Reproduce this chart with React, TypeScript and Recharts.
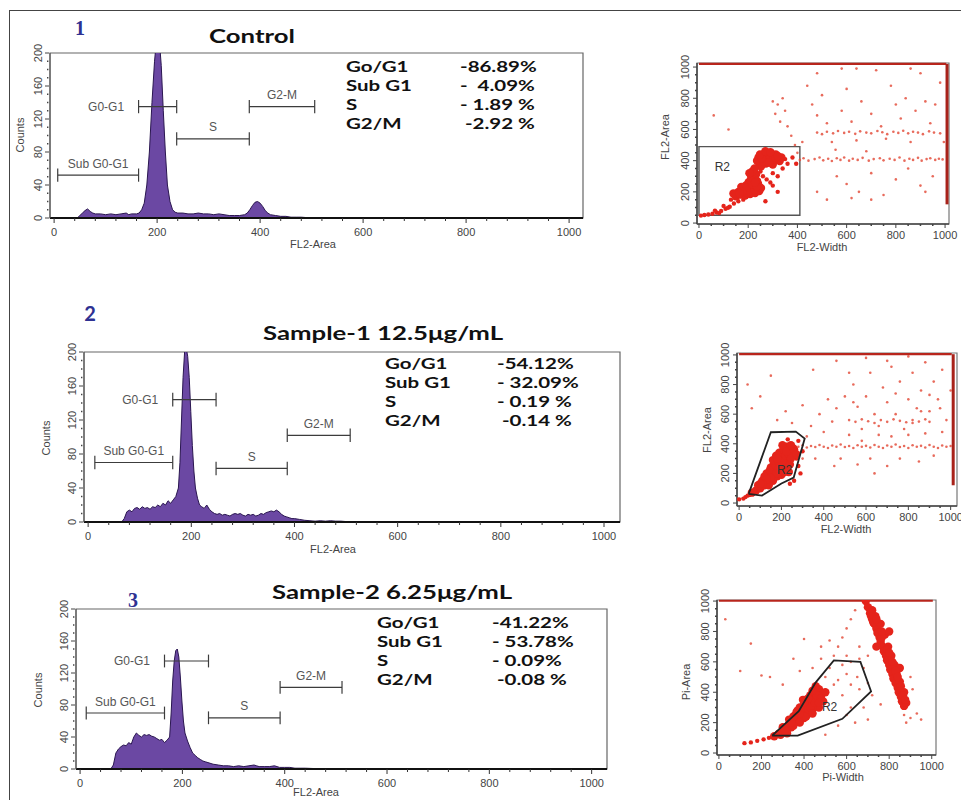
import React from "react";
import {
  AreaChart,
  Area,
  ScatterChart,
  Scatter,
  XAxis,
  YAxis,
  ReferenceLine,
  ReferenceDot,
  ReferenceArea,
} from "recharts";

// ---- histogram data: [FL2-Area, counts] ----
const controlHist: [number, number][] = [
  [-8, 0], [45, 0], [50, 3], [55, 6], [60, 9], [65, 11], [70, 8], [75, 6], [80, 5], [90, 5],
  [100, 4], [110, 5], [120, 4], [130, 5], [140, 6], [145, 4], [150, 5], [160, 5], [165, 6],
  [170, 10], [175, 18], [180, 40], [185, 80], [190, 140], [195, 190], [198, 210], [205, 210],
  [208, 185], [212, 130], [216, 80], [220, 40], [225, 20], [230, 10], [235, 7], [240, 6],
  [250, 6], [260, 5], [270, 5], [280, 6], [290, 5], [300, 5], [310, 4], [320, 5], [330, 4],
  [340, 3], [350, 3], [360, 3], [370, 4], [375, 6], [380, 10], [385, 15], [390, 19], [395, 20],
  [400, 18], [405, 14], [410, 9], [415, 6], [420, 4], [430, 3], [440, 2], [450, 2], [460, 1],
  [470, 1], [480, 1], [490, 0.5], [500, 0], [1030, 0],
];
const sample1Hist: [number, number][] = [
  [-8, 0], [65, 0], [70, 4], [75, 12], [80, 14], [85, 12], [90, 16], [95, 17], [100, 15],
  [105, 18], [110, 16], [115, 17], [120, 15], [125, 18], [130, 17], [135, 20], [140, 18],
  [145, 22], [150, 20], [155, 25], [160, 22], [165, 26], [170, 30], [175, 40], [178, 70],
  [181, 120], [184, 170], [187, 200], [190, 205], [193, 195], [196, 170], [199, 130], [202, 90],
  [205, 60], [208, 40], [212, 28], [216, 20], [220, 18], [225, 16], [230, 20], [235, 15],
  [240, 12], [245, 10], [250, 9], [255, 10], [260, 8], [265, 9], [270, 8], [275, 7], [280, 9],
  [285, 10], [290, 9], [295, 10], [300, 8], [305, 7], [310, 9], [315, 8], [320, 9], [325, 7],
  [330, 8], [335, 10], [340, 9], [345, 11], [350, 12], [355, 13], [360, 12], [365, 14],
  [370, 12], [375, 9], [380, 7], [385, 6], [390, 5], [395, 4], [400, 4], [410, 3], [420, 2],
  [430, 1.5], [440, 1], [450, 1.5], [460, 1], [470, 1.5], [480, 1], [490, 1], [500, 0.5],
  [505, 0], [1031, 0],
];
const sample2Hist: [number, number][] = [
  [-8, 0], [60, 0], [65, 5], [70, 20], [75, 25], [80, 28], [85, 30], [90, 29], [95, 33],
  [100, 31], [105, 40], [110, 45], [115, 42], [120, 40], [125, 43], [130, 42], [135, 43],
  [140, 41], [145, 40], [150, 38], [155, 36], [160, 37], [165, 33], [170, 36], [175, 40],
  [178, 70], [181, 110], [184, 135], [187, 148], [190, 150], [193, 140], [196, 115], [199, 85],
  [202, 60], [205, 45], [210, 35], [215, 27], [220, 20], [225, 17], [230, 14], [235, 12],
  [240, 10], [245, 9], [250, 8], [260, 6], [270, 5], [280, 4], [290, 4], [300, 3], [310, 4],
  [320, 3], [330, 4], [340, 5], [345, 4], [350, 3], [360, 3], [370, 3], [380, 4], [385, 3],
  [390, 2], [400, 2], [410, 2], [420, 1], [430, 1], [440, 1], [460, 0.5], [480, 0.5], [490, 0],
  [1030, 0],
];

const histXTicks = [
  0, 40, 80, 120, 160, 200, 240, 280, 320, 360, 400, 440, 480, 520, 560, 600, 640, 680, 720,
  760, 800, 840, 880, 920, 960, 1000,
];
const histYTicks = [
  0, 10, 20, 30, 40, 50, 60, 70, 80, 90, 100, 110, 120, 130, 140, 150, 160, 170, 180, 190, 200,
];
const flowTicks = [
  0, 50, 100, 150, 200, 250, 300, 350, 400, 450, 500, 550, 600, 650, 700, 750, 800, 850, 900,
  950, 1000,
];

// ---- gates: [from, to, level] for Sub G0-G1, G0-G1, S, G2-M ----
const gateNames = ["Sub G0-G1", "G0-G1", "S", "G2-M"];
const controlGates: [number, number, number][] = [[7, 164, 52], [164, 238, 135], [238, 379, 96], [379, 506, 135]];
const sample1Gates: [number, number, number][] = [[13, 164, 70], [164, 248, 144], [248, 386, 63], [386, 508, 102]];
const sample2Gates: [number, number, number][] = [[12, 165, 70], [165, 251, 135], [251, 391, 64], [391, 512, 102]];

// ---- percentages ----
const statLabels = ["Go/G1", "Sub G1", "S", "G2/M"];
const controlStats = ["-86.89%", "-  4.09%", "- 1.89 %", " -2.92 %"];
const sample1Stats = ["-54.12%", "- 32.09%", "- 0.19 %", " -0.14 %"];
const sample2Stats = ["-41.22%", "- 53.78%", "- 0.09%", " -0.08 %"];

// ---- dot plots: [width, area] ----
const ctrlCore: [number, number][] = [
  [245, 385], [258, 402], [268, 425], [282, 412], [295, 398], [305, 425], [318, 405], [272, 382],
  [288, 435], [252, 362], [328, 398], [300, 375], [262, 442], [242, 420], [278, 448], [312, 440],
  [236, 400], [335, 420], [150, 172], [168, 182], [188, 176], [208, 186], [228, 192], [160, 200],
  [180, 212], [200, 222], [220, 232], [240, 252], [202, 262], [222, 282], [212, 302], [192, 242],
  [172, 232], [245, 205], [252, 225], [232, 312], [218, 332], [140, 190], [196, 196], [236, 270],
  [226, 350], [262, 395], [275, 400], [290, 415], [300, 405], [285, 388], [255, 415], [310, 418],
  [320, 430], [248, 440], [270, 460], [290, 455], [185, 195], [205, 205], [225, 215], [195, 230],
  [215, 250], [235, 235], [175, 200], [165, 190], [210, 275], [205, 320], [228, 260],
];
const ctrlTail: [number, number][] = [
  [8, 48], [22, 52], [38, 55], [55, 60], [72, 68], [90, 78], [108, 92], [125, 105], [142, 125],
  [118, 98], [82, 64], [100, 110], [65, 80], [130, 150], [160, 140], [180, 150], [260, 300],
  [250, 330], [275, 280], [290, 260], [300, 240], [320, 300], [340, 350], [360, 380], [380, 420],
  [395, 380], [350, 410], [300, 320], [270, 140], [320, 200],
];
const ctrlSparse: [number, number][] = [
  [410, 405], [425, 415], [445, 400], [470, 410], [490, 420], [505, 402], [525, 412], [540, 398],
  [560, 415], [575, 405], [590, 420], [610, 400], [625, 412], [645, 405], [665, 418], [690, 400],
  [710, 410], [735, 415], [750, 402], [775, 412], [795, 405], [815, 420], [835, 400], [855, 412],
  [870, 405], [890, 418], [905, 400], [925, 410], [940, 415], [960, 405], [975, 412], [990, 408],
  [480, 580], [500, 570], [520, 585], [545, 575], [565, 590], [590, 578], [610, 585], [635, 572],
  [655, 588], [680, 580], [700, 575], [725, 590], [745, 582], [765, 570], [790, 585], [810, 578],
  [830, 592], [850, 575], [870, 585], [890, 580], [910, 570], [935, 588], [955, 580], [980, 575],
  [300, 780], [320, 760], [340, 800], [350, 720], [310, 700], [330, 650], [360, 620], [375, 560],
  [390, 500], [400, 450], [420, 520], [440, 880], [460, 760], [480, 690], [500, 820], [520, 640],
  [540, 520], [555, 470], [580, 720], [600, 860], [620, 650], [640, 530], [660, 780], [680, 460],
  [700, 700], [720, 980], [740, 620], [760, 540], [780, 880], [800, 760], [820, 670], [840, 800],
  [860, 520], [880, 720], [900, 960], [920, 780], [940, 640], [960, 760], [980, 900], [995, 520],
  [560, 300], [600, 250], [650, 200], [700, 320], [750, 180], [800, 280], [850, 350], [900, 240],
  [950, 300], [620, 160], [480, 200], [520, 150], [700, 150], [920, 200], [60, 690], [120, 600],
  [480, 960], [640, 990], [860, 990], [580, 990],
];

const s1Core: [number, number][] = [
  [60, 70], [80, 85], [100, 100], [120, 120], [110, 150], [130, 140], [140, 170], [150, 190],
  [160, 210], [170, 230], [180, 250], [150, 240], [165, 270], [185, 290], [200, 310], [175, 320],
  [190, 340], [210, 360], [225, 380], [240, 350], [250, 320], [230, 300], [215, 270], [200, 240],
  [220, 230], [240, 260], [195, 200], [180, 180], [160, 150], [140, 120], [205, 390], [255, 370],
  [260, 340], [130, 200], [145, 220], [120, 180], [235, 210], [90, 120], [170, 260], [190, 270],
  [205, 280], [220, 320], [235, 330], [245, 300], [225, 350], [185, 230], [200, 190], [175, 200],
  [150, 170], [130, 160], [110, 130], [100, 130], [160, 290], [180, 300], [215, 210], [260, 360],
  [245, 390], [270, 330],
];
const s1Tail: [number, number][] = [
  [0, 25], [20, 30], [30, 40], [40, 50], [50, 55], [270, 300], [280, 250], [290, 200], [300, 350],
  [260, 150], [240, 130], [280, 420], [230, 430],
];
const s1Sparse: [number, number][] = [
  [280, 380], [300, 390], [320, 375], [340, 385], [360, 378], [380, 392], [400, 380], [420, 372],
  [440, 388], [460, 380], [480, 395], [500, 378], [520, 385], [540, 372], [560, 390], [580, 380],
  [600, 386], [620, 375], [640, 392], [660, 380], [680, 372], [700, 388], [720, 380], [740, 395],
  [760, 378], [780, 385], [800, 372], [820, 390], [840, 380], [860, 386], [880, 375], [900, 392],
  [920, 380], [940, 372], [960, 388], [980, 380], [1000, 385], [520, 560], [550, 548], [580, 565],
  [610, 552], [640, 540], [670, 560], [700, 548], [730, 565], [760, 555], [790, 545], [820, 560],
  [850, 550], [880, 565], [900, 548], [300, 300], [320, 450], [340, 520], [360, 300], [380, 600],
  [400, 480], [420, 700], [440, 550], [460, 640], [480, 300], [500, 720], [520, 460], [540, 800],
  [560, 650], [580, 500], [600, 720], [620, 880], [640, 600], [660, 460], [680, 780], [700, 680],
  [720, 920], [740, 600], [760, 820], [780, 500], [800, 700], [820, 880], [840, 640], [860, 760],
  [880, 950], [900, 620], [920, 820], [940, 700], [960, 900], [980, 560], [1000, 760], [620, 300],
  [700, 250], [760, 300], [850, 280], [920, 320], [560, 260], [450, 250], [640, 200], [580, 420],
  [660, 520], [720, 450], [800, 460], [880, 470], [960, 480], [300, 660], [250, 540], [220, 620],
  [180, 560], [100, 720], [60, 640], [40, 800], [150, 860], [350, 900], [460, 960], [520, 880],
  [600, 980], [700, 960], [800, 990], [860, 620], [900, 730], [950, 640], [540, 680], [740, 740],
  [820, 540],
];

const s2Core: [number, number][] = [
  [260, 110], [280, 125], [300, 140], [320, 155], [340, 170], [300, 170], [330, 190], [350, 210],
  [370, 230], [360, 250], [390, 260], [400, 280], [380, 300], [410, 310], [420, 330], [440, 350],
  [430, 380], [450, 400], [470, 420], [460, 360], [480, 380], [490, 340], [470, 300], [440, 290],
  [420, 260], [400, 230], [380, 200], [350, 180], [320, 130], [290, 120], [500, 400], [455, 440],
  [435, 320], [395, 350], [410, 240], [330, 220], [350, 240], [365, 270], [380, 260], [400, 300],
  [420, 290], [430, 300], [450, 330], [460, 380], [440, 410], [420, 360], [400, 330], [370, 280],
  [340, 200], [310, 150], [480, 360], [470, 330], [440, 260],
  [690, 1000], [700, 960], [710, 920], [720, 880], [730, 850], [740, 820], [745, 790], [755, 760],
  [760, 730], [770, 700], [775, 670], [785, 640], [790, 610], [800, 580], [805, 550], [815, 520],
  [820, 490], [830, 460], [840, 430], [845, 400], [855, 370], [860, 340], [870, 310], [760, 850],
  [780, 780], [795, 700], [810, 640], [825, 580], [835, 520], [850, 470], [735, 900], [720, 940],
  [800, 800], [740, 700], [850, 560], [870, 400], [880, 330], [715, 900], [725, 860], [750, 790],
  [765, 760], [790, 680], [800, 660], [815, 600], [830, 540], [840, 500], [855, 440], [865, 380],
  [875, 350], [740, 880], [765, 800],
];
const s2Tail: [number, number][] = [
  [120, 65], [150, 70], [180, 80], [210, 90], [235, 100], [250, 105],
];
const s2Sparse: [number, number][] = [
  [500, 500], [520, 560], [540, 640], [560, 700], [580, 760], [600, 820], [620, 880], [640, 940],
  [560, 480], [600, 520], [620, 450], [650, 500], [680, 560], [540, 450], [580, 380], [620, 300],
  [660, 420], [700, 460], [600, 250], [640, 200], [560, 180], [500, 120], [680, 300], [700, 220],
  [880, 200], [900, 230], [950, 220], [930, 260], [400, 750], [380, 540], [300, 450], [200, 510],
  [100, 540], [30, 880], [150, 720], [240, 500], [350, 620], [440, 560], [480, 620], [520, 740],
  [480, 700], [600, 640], [660, 700], [620, 600], [580, 580], [660, 620], [700, 640], [900, 500],
  [910, 420], [870, 250], [720, 380], [760, 320],
];

// R2 gates
const ctrlGateRect = { x1: 0, x2: 410, y1: 50, y2: 490 };
const s1GatePoly: [number, number][] = [
  [45, 62], [150, 478], [268, 482], [310, 435], [258, 172], [200, 132], [108, 50], [45, 62],
];
const s2GatePoly: [number, number][] = [
  [250, 115], [375, 275], [455, 465], [540, 610], [665, 600], [715, 405], [580, 225], [370, 115],
  [250, 115],
];

const CAL = "Lato, 'Open Sans', sans-serif";
const ARIAL = "'Liberation Sans', Arial, sans-serif";
const PURPLE = "#6b48a3";
const RED = "#e5241b";

const toXY = (arr: [number, number][]) => arr.map(([x, y]) => ({ x, y }));

// ---------- ticks ----------
const HistXTick = (props: any) => {
  const { x, y, payload } = props;
  const major = payload.value % 200 === 0;
  return (
    <g>
      <line x1={x} x2={x} y1={y} y2={y + (major ? 5 : 3)} stroke="#333" strokeWidth={1} />
      {major && (
        <text x={x} y={y + 18} textAnchor="middle" fontSize={11} fill="#444" fontFamily={ARIAL}>
          {payload.value}
        </text>
      )}
    </g>
  );
};

const HistYTick = (props: any) => {
  const { x, y, payload } = props;
  const major = payload.value % 40 === 0;
  return (
    <g>
      <line x1={x - (major ? 5 : 3)} x2={x - 1} y1={y} y2={y} stroke="#444" strokeWidth={major ? 1 : 1.4} strokeDasharray={major ? undefined : "1.4 1"} />
      {major && (
        <text x={x - 8} y={y} transform={`rotate(-90, ${x - 8}, ${y})`} textAnchor="middle" fontSize={11} fill="#444" fontFamily={ARIAL}>
          {payload.value}
        </text>
      )}
    </g>
  );
};

const FlowXTick = (props: any) => {
  const { x, y, payload } = props;
  const major = payload.value % 200 === 0;
  return (
    <g>
      <line x1={x} x2={x} y1={y} y2={y + (major ? 4 : 2)} stroke="#444" strokeWidth={major ? 1 : 1.5} />
      {major && (
        <text x={x} y={y + 15} textAnchor="middle" fontSize={11} fill="#444" fontFamily={ARIAL}>
          {payload.value}
        </text>
      )}
    </g>
  );
};

const FlowYTick = (props: any) => {
  const { x, y, payload } = props;
  const major = payload.value % 200 === 0;
  return (
    <g>
      <line x1={x - (major ? 4 : 2)} x2={x} y1={y} y2={y} stroke="#444" strokeWidth={major ? 1 : 1.5} />
      {major && (
        <text x={x - 8} y={y} transform={`rotate(-90, ${x - 8}, ${y})`} textAnchor="middle" fontSize={11} fill="#444" fontFamily={ARIAL}>
          {payload.value}
        </text>
      )}
    </g>
  );
};

// ---------- histogram panel ----------
interface HistProps {
  data: [number, number][];
  gates: [number, number, number][];
  left: number;
  top: number;
  plotW: number;
  plotH: number;
  xMax: number;
}

const ML = 45;
const MT = 16;
const MR = 16;
const XH = 40;

const Histogram: React.FC<HistProps> = ({ data, gates, left, top, plotW, plotH, xMax }) => {
  const rows = toXY(data);
  return (
    <div style={{ position: "absolute", left: left - ML, top: top - MT }}>
      <AreaChart
        width={plotW + ML + MR}
        height={plotH + MT + XH}
        data={rows}
        margin={{ top: MT, right: MR, bottom: 0, left: 0 }}
      >
        <XAxis
          type="number"
          dataKey="x"
          domain={[-8, xMax]}
          ticks={histXTicks}
          interval={0}
          allowDataOverflow
          tickLine={false}
          tickSize={0}
          tickMargin={0}
          height={XH}
          axisLine={{ stroke: "#111", strokeWidth: 2 }}
          tick={(p: any) => <HistXTick {...p} />}
        />
        <YAxis
          type="number"
          domain={[0, 200]}
          ticks={histYTicks}
          interval={0}
          allowDataOverflow
          tickLine={false}
          tickSize={0}
          tickMargin={0}
          width={ML}
          axisLine={{ stroke: "#555", strokeWidth: 1 }}
          tick={(p: any) => <HistYTick {...p} />}
        />
        <ReferenceArea x1={-8} x2={xMax} y1={0} y2={200} fill="none" stroke="#666" strokeWidth={1.2} />
        <Area
          type="linear"
          dataKey="y"
          stroke="#2a1650"
          strokeWidth={1}
          fill={PURPLE}
          fillOpacity={1}
          dot={false}
          activeDot={false}
          isAnimationActive={false}
        />
        {gates.map(([a, b, lvl], i) => {
          const tk = 8;
          return (
            <React.Fragment key={i}>
              <ReferenceLine segment={[{ x: a, y: lvl }, { x: b, y: lvl }]} stroke="#3c3c3c" strokeWidth={1.2} />
              <ReferenceLine segment={[{ x: a, y: lvl - tk }, { x: a, y: lvl + tk }]} stroke="#3c3c3c" strokeWidth={1.2} />
              <ReferenceLine segment={[{ x: b, y: lvl - tk }, { x: b, y: lvl + tk }]} stroke="#3c3c3c" strokeWidth={1.2} />
              <ReferenceDot
                x={i === 1 ? a : (a + b) / 2}
                y={lvl}
                r={0.5}
                fill="none"
                stroke="none"
                label={{
                  value: gateNames[i],
                  position: i === 1 ? "left" : "top",
                  offset: i === 1 ? 14 : 7,
                  fill: "#555",
                  fontSize: 12,
                  fontFamily: ARIAL,
                }}
              />
            </React.Fragment>
          );
        })}
      </AreaChart>
    </div>
  );
};

// ---------- dot plot panel ----------
interface FlowProps {
  left: number;
  top: number;
  plotW: number;
  plotH: number;
  xDomain: [number, number];
  yDomain: [number, number];
  core: [number, number][];
  tail: [number, number][];
  sparse: [number, number][];
  poly?: [number, number][];
  rect?: { x1: number; x2: number; y1: number; y2: number };
  r2: [number, number];
  topLineY: number;
  rightLineX?: number;
}

const FM_L = 40;
const FM_T = 14;
const FM_R = 16;
const FXH = 30;

const FlowPlot: React.FC<FlowProps> = (p) => {
  const dot = (r: number, fill: string, op = 1) => (s: any) =>
    <circle cx={s.cx} cy={s.cy} r={r} fill={fill} fillOpacity={op} />;
  return (
    <div style={{ position: "absolute", left: p.left - FM_L, top: p.top - FM_T }}>
      <ScatterChart
        width={p.plotW + FM_L + FM_R}
        height={p.plotH + FM_T + FXH}
        margin={{ top: FM_T, right: FM_R, bottom: 0, left: 0 }}
      >
        <XAxis
          type="number"
          dataKey="x"
          domain={p.xDomain}
          ticks={flowTicks}
          interval={0}
          allowDataOverflow
          tickLine={false}
          tickSize={0}
          tickMargin={0}
          height={FXH}
          axisLine={{ stroke: "#444", strokeWidth: 1.5 }}
          tick={(t: any) => <FlowXTick {...t} />}
        />
        <YAxis
          type="number"
          dataKey="y"
          domain={p.yDomain}
          ticks={flowTicks}
          interval={0}
          allowDataOverflow
          tickLine={false}
          tickSize={0}
          tickMargin={0}
          width={FM_L}
          axisLine={{ stroke: "#444", strokeWidth: 1.5 }}
          tick={(t: any) => <FlowYTick {...t} />}
        />
        <ReferenceArea
          x1={p.xDomain[0]}
          x2={p.xDomain[1]}
          y1={p.yDomain[0]}
          y2={p.yDomain[1]}
          fill="none"
          stroke="#777"
          strokeWidth={1.2}
        />
        <Scatter data={toXY(p.sparse)} shape={dot(1.3, "#e4513f", 0.85)} isAnimationActive={false} />
        <Scatter data={toXY(p.tail)} shape={dot(2.2, RED)} isAnimationActive={false} />
        <Scatter data={toXY(p.core)} shape={dot(4.2, RED)} isAnimationActive={false} />
        <ReferenceLine
          segment={[{ x: 0, y: p.topLineY }, { x: 1005, y: p.topLineY }]}
          stroke="#b8251c"
          strokeWidth={2.2}
        />
        {p.rightLineX !== undefined && (
          <ReferenceLine
            segment={[{ x: p.rightLineX, y: 120 }, { x: p.rightLineX, y: p.topLineY }]}
            stroke="#a8221a"
            strokeWidth={3}
          />
        )}
        {p.rect && (
          <ReferenceArea
            x1={p.rect.x1}
            x2={p.rect.x2}
            y1={p.rect.y1}
            y2={p.rect.y2}
            fill="none"
            stroke="#555"
            strokeWidth={1.4}
          />
        )}
        {p.poly && (
          <Scatter
            data={toXY(p.poly)}
            line={{ stroke: "#222", strokeWidth: 1.8 }}
            lineType="joint"
            shape={() => <g />}
            isAnimationActive={false}
          />
        )}
        <ReferenceDot
          x={p.r2[0]}
          y={p.r2[1]}
          r={0.5}
          fill="none"
          stroke="none"
          label={{ value: "R2", position: "center", fill: "#333", fontSize: 12, fontFamily: ARIAL }}
        />
      </ScatterChart>
    </div>
  );
};

// ---------- text helpers ----------
const abs = (left: number, top: number, extra: React.CSSProperties = {}): React.CSSProperties => ({
  position: "absolute",
  left,
  top,
  whiteSpace: "pre",
  ...extra,
});

const CalText: React.FC<{ x: number; y: number; size: number; children: React.ReactNode; center?: boolean }> = ({
  x,
  y,
  size,
  children,
  center,
}) => (
  <div
    style={abs(x, y - size * 0.6, {
      fontFamily: CAL,
      fontWeight: 700,
      fontSize: size,
      lineHeight: `${size * 1.2}px`,
      color: "#111",
      transform: center ? "translateX(-50%) scaleX(1.32)" : "scaleX(1.32)",
      transformOrigin: center ? "50% 50%" : "0 50%",
    })}
  >
    {children}
  </div>
);

const Stats: React.FC<{ x: number; vx: number; y: number; values: string[] }> = ({ x, vx, y, values }) => (
  <>
    {statLabels.map((s, i) => (
      <React.Fragment key={s}>
        <CalText x={x} y={y + i * 19} size={15.5}>{s}</CalText>
        <CalText x={vx} y={y + i * 19} size={15.5}>{values[i]}</CalText>
      </React.Fragment>
    ))}
  </>
);

const AxisTitle: React.FC<{ x: number; y: number; text: string; rotate?: boolean }> = ({ x, y, text, rotate }) => (
  <div
    style={abs(x, y, {
      fontFamily: ARIAL,
      fontSize: 11,
      color: "#444",
      lineHeight: "12px",
      transform: `translate(-50%, -50%)${rotate ? " rotate(-90deg)" : ""}`,
    })}
  >
    {text}
  </div>
);

const PanelNo: React.FC<{ x: number; y: number; text: string; serif: boolean }> = ({ x, y, text, serif }) => (
  <div
    style={abs(x, y, {
      fontFamily: serif ? "'Liberation Serif', 'Times New Roman', serif" : CAL,
      fontWeight: 700,
      fontSize: 20,
      lineHeight: "22px",
      color: "#2e3192",
      transform: "translate(-50%, -50%)",
    })}
  >
    {text}
  </div>
);

export default function App() {
  return (
    <div
      style={{
        position: "absolute",
        left: 0,
        top: 0,
        width: 961,
        height: 800,
        background: "#fff",
        overflow: "hidden",
      }}
    >
      {/* figure border (left and top only) */}
      <div style={{ position: "absolute", left: 9, top: 10, width: 960, height: 800, borderLeft: "1.5px solid #444", borderTop: "1.5px solid #444" }} />

      {/* panel 1 */}
      <PanelNo x={80} y={28} text="1" serif />
      <CalText x={252} y={36} size={19.5} center>Control</CalText>
      <Histogram data={controlHist} gates={controlGates} left={50} top={53} plotW={533} plotH={165} xMax={1027} />
      <Stats x={346} vx={460} y={66} values={controlStats} />
      <AxisTitle x={20} y={135} text="Counts" rotate />
      <AxisTitle x={313} y={244} text="FL2-Area" />

      <FlowPlot
        left={697}
        top={63}
        plotW={252}
        plotH={161}
        xDomain={[-8, 1016]}
        yDomain={[-6, 1026]}
        core={ctrlCore}
        tail={ctrlTail}
        sparse={ctrlSparse}
        rect={ctrlGateRect}
        r2={[95, 360]}
        topLineY={1020}
        rightLineX={1008}
      />
      <AxisTitle x={665} y={137} text="FL2-Area" rotate />
      <AxisTitle x={822} y={247} text="FL2-Width" />

      {/* panel 2 */}
      <PanelNo x={90} y={313} text="2" serif={false} />
      <CalText x={383} y={333} size={19.5} center>Sample-1 12.5μg/mL</CalText>
      <Histogram data={sample1Hist} gates={sample1Gates} left={84} top={352} plotW={536} plotH={170} xMax={1031} />
      <Stats x={385} vx={497} y={363} values={sample1Stats} />
      <AxisTitle x={46} y={438} text="Counts" rotate />
      <AxisTitle x={333} y={549} text="FL2-Area" />

      <FlowPlot
        left={737}
        top={353}
        plotW={220}
        plotH={153}
        xDomain={[-10, 1030]}
        yDomain={[-20, 1013]}
        core={s1Core}
        tail={s1Tail}
        sparse={s1Sparse}
        poly={s1GatePoly}
        r2={[215, 225]}
        topLineY={1005}
        rightLineX={1012}
      />
      <AxisTitle x={707} y={430} text="FL2-Area" rotate />
      <AxisTitle x={846} y={529} text="FL2-Width" />

      {/* panel 3 */}
      <PanelNo x={133} y={600} text="3" serif />
      <CalText x={392} y={592} size={19.5} center>Sample-2 6.25μg/mL</CalText>
      <Histogram data={sample2Hist} gates={sample2Gates} left={76} top={609} plotW={531} plotH={160} xMax={1030} />
      <Stats x={377} vx={492} y={622} values={sample2Stats} />
      <AxisTitle x={38} y={690} text="Counts" rotate />
      <AxisTitle x={316} y={792} text="FL2-Area" />

      <FlowPlot
        left={717}
        top={600}
        plotW={219}
        plotH={155}
        xDomain={[-9, 1020]}
        yDomain={[-13, 1007]}
        core={s2Core}
        tail={s2Tail}
        sparse={s2Sparse}
        poly={s2GatePoly}
        r2={[520, 305]}
        topLineY={1002}
      />
      <AxisTitle x={686} y={682} text="Pi-Area" rotate />
      <AxisTitle x={843} y={777} text="Pi-Width" />
    </div>
  );
}
